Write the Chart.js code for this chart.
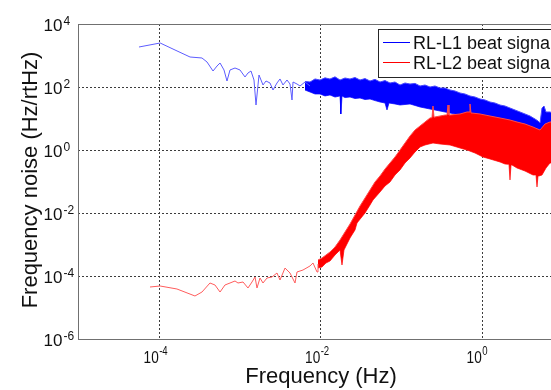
<!DOCTYPE html>
<html>
<head>
<meta charset="utf-8">
<script src="https://cdn.jsdelivr.net/npm/chart.js@4.4.1/dist/chart.umd.min.js"></script>
<style>
  html, body { margin: 0; padding: 0; background: #fff; overflow: hidden; width: 551px; height: 390px; }
  canvas { position: absolute; left: 0; top: 0; }
</style>
</head>
<body>
<canvas id="c" width="600" height="390"></canvas>
<script>
// RL-L1 beat: sparse low-frequency part of the spectrum
const l1Freq = [5.69e-5, 1.04e-4, 1.59e-4, 2.44e-4, 3.43e-4, 3.96e-4, 4.70e-4, 5.27e-4, 5.74e-4, 6.43e-4,
  7.00e-4, 7.63e-4, 8.80e-4, 1.014e-3, 1.17e-3, 1.274e-3, 1.388e-3, 1.512e-3, 1.601e-3, 1.695e-3,
  1.744e-3, 1.954e-3, 2.129e-3, 2.386e-3, 2.60e-3, 2.913e-3, 3.174e-3, 3.457e-3, 3.875e-3, 4.221e-3,
  4.469e-3, 4.599e-3, 5.154e-3, 5.615e-3, 6.475e-3, 7.467e-3];
const l1Noise = [1861, 2494, 1495, 896, 833, 622, 322, 464, 578, 347,
  155, 347, 401, 347, 208, 278, 322, 167, 26.8, 116,
  240, 116, 155, 134, 80.3, 134, 180, 116, 167, 124.5,
  38.7, 144, 124.5, 107.6, 144.1, 107.6];

// RL-L1 beat: dense part, upper and lower edges of the noise band
const l1UpperFreq = [6.475e-3, 7.467e-3, 8.61e-3, 9.929e-3, 1.145e-2, 1.32e-2, 1.523e-2, 1.757e-2, 2.025e-2,
  2.336e-2, 2.694e-2, 3.107e-2, 3.583e-2, 4.132e-2, 4.764e-2, 5.495e-2, 6.339e-2, 7.309e-2, 8.427e-2,
  9.719e-2, 0.1121, 0.1293, 0.1491, 0.1720, 0.1983, 0.2287, 0.2637, 0.3041, 0.3507,
  0.4045, 0.4666, 0.5380, 0.6203, 0.7153, 0.8249, 0.9515, 1.097, 1.265, 1.459,
  1.683, 1.941, 2.238, 2.581, 2.977, 3.433, 3.960, 4.566, 4.974, 5.266,
  5.575, 5.902, 6.247, 7.003, 8.076];
const l1Upper = [150, 144.1, 180, 166.8, 195, 179.5, 210, 166.8, 193.1,
  179.5, 200, 166.8, 185, 155.0, 175, 144.1, 160, 134.0, 144.1,
  115.7, 134.0, 124.5, 130, 107.6, 115.7, 100, 107.6, 92.9, 92.9,
  80.3, 74.6, 64.5, 59.9, 51.8, 48.1, 41.6, 38.7, 33.4, 31.0,
  26.8, 24.9, 21.5, 18.6, 16.1, 13.9, 12.0, 9.64, 8.33, 7.20,
  21.5, 24.9, 16.1, 16.1, 13.9];
const l1LowerFreq = [6.475e-3, 7.467e-3, 8.61e-3, 9.929e-3, 1.145e-2, 1.32e-2, 1.523e-2, 1.757e-2, 1.807e-2,
  1.859e-2, 2.025e-2, 2.336e-2, 2.694e-2, 3.107e-2, 3.583e-2, 4.132e-2, 4.764e-2, 5.495e-2, 6.339e-2,
  6.708e-2, 7.103e-2, 8.427e-2, 9.719e-2, 0.1293, 0.1720, 0.2287, 0.3041, 0.4045, 0.5380,
  0.7153, 0.9515, 1.265, 1.683, 2.238, 2.977, 3.960, 4.974, 5.575, 6.247,
  7.003, 8.076];
const l1Lower = [80, 69.4, 60, 59.9, 52, 55.7, 48, 51.8, 13.9,
  51.8, 46, 48.1, 43, 44.8, 40, 41.6, 37, 33.4, 31.0,
  18.6, 31.0, 28.9, 26.8, 28.9, 23.2, 20.0, 17.3, 14.9, 12.9,
  11.2, 9.64, 8.33, 7.20, 6.22, 4.99, 4.01, 2.99, 3.47, 4.99,
  5.78, 5.78];

// RL-L2 beat: sparse low-frequency part of the spectrum
const l2Freq = [7.79e-5, 1.04e-4, 1.68e-4, 2.81e-4, 3.43e-4, 4.31e-4, 4.97e-4, 5.74e-4, 6.61e-4, 7.63e-4,
  8.80e-4, 9.58e-4, 1.105e-3, 1.274e-3, 1.428e-3, 1.556e-3, 1.647e-3, 1.795e-3, 1.954e-3, 2.19e-3,
  2.526e-3, 2.913e-3, 3.174e-3, 3.66e-3, 4.221e-3, 4.868e-3, 5.154e-3, 6.116e-3, 7.467e-3, 8.134e-3,
  9.116e-3, 9.378e-3];
const l2Noise = [4.47e-5, 4.81e-5, 3.87e-5, 2.32e-5, 3.10e-5, 5.99e-5, 5.18e-5, 3.10e-5, 5.18e-5, 5.99e-5,
  6.94e-5, 5.99e-5, 6.45e-5, 4.16e-5, 6.45e-5, 9.29e-5, 4.16e-5, 8.64e-5, 5.99e-5, 8.64e-5,
  9.29e-5, 1.245e-4, 7.46e-5, 1.79e-4, 1.245e-4, 5.99e-5, 1.34e-4, 1.55e-4, 2.08e-4, 2.59e-4,
  1.34e-4, 2.40e-4];

// RL-L2 beat: dense part, upper and lower edges of the noise band
const l2UpperFreq = [9.378e-3, 1.051e-2, 1.178e-2, 1.32e-2, 1.523e-2, 1.757e-2, 2.025e-2, 2.336e-2, 2.694e-2, 3.107e-2,
  3.583e-2, 4.132e-2, 4.764e-2, 5.495e-2, 6.339e-2, 7.309e-2, 8.427e-2, 9.719e-2, 0.1121, 0.1293,
  0.1491, 0.1720, 0.1983, 0.2287, 0.2420, 0.2490, 0.2563, 0.2637, 0.3041, 0.3507,
  0.3713, 0.3820, 0.3930, 0.4045, 0.5380, 0.6568, 0.6953, 0.7153, 0.7360, 0.7574,
  0.9515, 1.265, 1.683, 2.238, 2.733, 3.433, 4.312, 5.266, 6.073, 7.003, 8.076];
const l2Upper = [3.22e-4, 3.73e-4, 4.64e-4, 5.78e-4, 8.33e-4, 1.39e-3, 2.49e-3, 4.47e-3, 8.64e-3, 1.67e-2,
  2.99e-2, 5.37e-2, 9.64e-2, 0.1495, 0.249, 0.387, 0.600, 1.0, 1.668, 2.78,
  4.31, 5.78, 7.74, 10.4, 10.6, 24.9, 11.0, 11.2, 12.0, 12.9,
  12.9, 26.8, 12.9, 12.9, 13.9, 16.1, 16.1, 28.9, 14.9, 14.9,
  13.9, 12.0, 10.4, 8.96, 7.74, 6.69, 5.37, 4.31, 6.69, 7.74, 7.74];
const l2LowerFreq = [9.378e-3, 1.051e-2, 1.178e-2, 1.32e-2, 1.523e-2, 1.757e-2, 1.859e-2, 1.968e-2, 2.336e-2, 2.694e-2,
  2.852e-2, 3.583e-2, 4.132e-2, 4.501e-2, 5.495e-2, 6.339e-2, 7.309e-2, 8.427e-2, 9.719e-2, 0.1121,
  0.1293, 0.1491, 0.1720, 0.1983, 0.2490, 0.3041, 0.4045, 0.5380, 0.6568, 0.8249,
  1.036, 1.265, 1.683, 1.941, 2.175, 2.238, 2.303, 2.370, 2.733, 3.433,
  4.312, 4.698, 4.834, 4.974, 5.117, 5.575, 6.247, 7.003, 8.076];
const l2Lower = [1.79e-4, 1.93e-4, 2.59e-4, 2.99e-4, 4.64e-4, 6.69e-4, 2.23e-4, 6.69e-4, 1.61e-3, 2.89e-3,
  4.81e-3, 1.0e-2, 1.79e-2, 2.59e-2, 4.64e-2, 7.20e-2, 9.64e-2, 0.161, 0.232, 0.387,
  0.557, 0.864, 1.245, 1.441, 1.668, 1.551, 1.441, 1.157, 1.0, 0.803,
  0.600, 0.518, 0.416, 0.359, 0.35, 0.1116, 0.334, 0.334, 0.268, 0.215,
  0.161, 0.161, 0.0669, 0.1495, 0.1495, 0.161, 0.268, 0.387, 0.387];

// Axis decades that carry a label / grid line
const xTickExps = [-4, -2, 0];
const yTickExps = [4, 2, 0, -2, -4, -6];
const seriesNames = ['RL-L1 beat signal', 'RL-L2 beat signal'];
const xTitle = 'Frequency (Hz)';
const yTitle = 'Frequency noise (Hz/rtHz)';

const BLUE = '#0000ff';
const RED = '#ff0000';
const BLUE_THIN = '#5c5cff';
const RED_THIN = '#ff5c5c';
const BLUE_EDGE = '#4848ff';
const RED_EDGE = '#ff4a4a';
const FONT = '"Liberation Sans", Arial, Helvetica, sans-serif';

const pts = (xs, ys) => xs.map((x, i) => ({ x: x, y: ys[i] }));
const line = (label, data, color) => ({ label, data, borderColor: color, borderWidth: 1, pointRadius: 0, fill: false, tension: 0 });

const datasets = [
  line(seriesNames[1], pts(l2Freq, l2Noise), RED_THIN),
  Object.assign(line('l2-upper', pts(l2UpperFreq, l2Upper), RED_EDGE), { fill: '+1', backgroundColor: RED }),
  line('l2-lower', pts(l2LowerFreq, l2Lower), RED_EDGE),
  line(seriesNames[0], pts(l1Freq, l1Noise), BLUE_THIN),
  Object.assign(line('l1-upper', pts(l1UpperFreq, l1Upper), BLUE_EDGE), { fill: '+1', backgroundColor: BLUE }),
  line('l1-lower', pts(l1LowerFreq, l1Lower), BLUE_EDGE)
];

// Grid, frame, tick labels, axis titles and legend in MATLAB style
const decor = {
  id: 'decor',
  beforeDatasetsDraw(chart) {
    const { ctx, chartArea: a, scales: { x, y } } = chart;
    ctx.save();
    ctx.strokeStyle = '#3c3c3c';
    ctx.lineWidth = 1;
    ctx.setLineDash([2, 2]);
    xTickExps.forEach(e => {
      const px = Math.round(x.getPixelForValue(Math.pow(10, e))) + 0.5;
      ctx.beginPath(); ctx.moveTo(px, a.top); ctx.lineTo(px, a.bottom); ctx.stroke();
    });
    yTickExps.forEach(e => {
      const py = Math.round(y.getPixelForValue(Math.pow(10, e))) + 0.5;
      if (py <= a.top + 1 || py >= a.bottom - 1) return;
      ctx.beginPath(); ctx.moveTo(a.left, py); ctx.lineTo(a.right, py); ctx.stroke();
    });
    ctx.restore();
  },
  afterDraw(chart) {
    const { ctx, chartArea: a, scales: { x, y } } = chart;
    ctx.save();
    // frame
    ctx.strokeStyle = '#707070';
    ctx.lineWidth = 1;
    ctx.strokeRect(Math.round(a.left) + 0.5, Math.round(a.top) + 0.5,
      Math.round(a.right - a.left), Math.round(a.bottom - a.top));

    ctx.fillStyle = '#111';
    const expText = e => (e < 0 ? '-' + Math.abs(e) : String(e));

    // y tick labels
    yTickExps.forEach(e => {
      const py = y.getPixelForValue(Math.pow(10, e));
      ctx.font = '17px ' + FONT;
      ctx.textAlign = 'right';
      ctx.textBaseline = 'alphabetic';
      ctx.fillText('10', 62.5, py + 6.5);
      ctx.font = '12px ' + FONT;
      ctx.textAlign = 'left';
      ctx.fillText(expText(e), 63.5, py + 1);
    });

    // x tick labels
    xTickExps.forEach(e => {
      const px = x.getPixelForValue(Math.pow(10, e));
      ctx.save();
      ctx.translate(px, 0);
      ctx.scale(0.8, 1);
      ctx.font = '17px ' + FONT;
      ctx.textAlign = 'right';
      ctx.textBaseline = 'alphabetic';
      ctx.fillText('10', 0, 363);
      ctx.font = '12px ' + FONT;
      ctx.textAlign = 'left';
      ctx.fillText(expText(e), 0.5, 355);
      ctx.restore();
    });

    // axis titles
    ctx.font = '22px ' + FONT;
    ctx.textAlign = 'center';
    ctx.textBaseline = 'alphabetic';
    ctx.fillText(xTitle, 321, 383);
    ctx.save();
    ctx.translate(36.5, 180);
    ctx.rotate(-Math.PI / 2);
    ctx.fillText(yTitle, 0, 0);
    ctx.restore();

    // legend
    ctx.fillStyle = '#fff';
    ctx.fillRect(378.5, 29.5, 240, 48);
    ctx.strokeStyle = '#262626';
    ctx.strokeRect(378.5, 29.5, 240, 48);
    const rows = [[seriesNames[0], BLUE, 42.5], [seriesNames[1], RED, 62.5]];
    rows.forEach(([name, color, ly]) => {
      ctx.strokeStyle = color;
      ctx.beginPath(); ctx.moveTo(383, ly); ctx.lineTo(410, ly); ctx.stroke();
      ctx.fillStyle = '#111';
      ctx.font = '18px ' + FONT;
      ctx.textAlign = 'left';
      ctx.fillText(name, 413, ly + 6);
    });
    ctx.restore();
  }
};

new Chart(document.getElementById('c'), {
  type: 'line',
  data: { datasets },
  options: {
    responsive: false,
    animation: false,
    events: [],
    layout: { padding: { left: 78, top: 24, right: 37.5, bottom: 51 } },
    plugins: { legend: { display: false }, tooltip: { enabled: false } },
    scales: {
      x: { type: 'logarithmic', min: 1e-5, max: 10, display: false },
      y: { type: 'logarithmic', min: 1e-6, max: 1e4, display: false }
    }
  },
  plugins: [decor]
});
</script>
</body>
</html>
